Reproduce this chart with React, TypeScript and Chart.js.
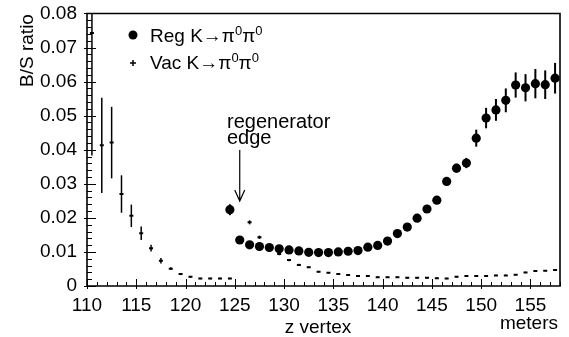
import React, { useEffect, useRef } from "react";
import { Chart, registerables } from "chart.js";
Chart.register(...registerables);

// Vacuum beam K -> pi0 pi0 (background/signal ratio vs z vertex)
const vacZ = [
  110.5, 111.5, 112.5, 113.5, 114.5, 115.5, 116.5, 117.5, 118.5, 119.5, 120.5, 121.5, 122.5, 123.5, 124.5,
  126.5, 127.5, 128.5, 129.5, 130.5, 131.5, 132.5, 133.5, 134.5, 135.5, 136.5, 137.5, 138.5, 139.5, 140.5,
  141.5, 142.5, 143.5, 144.5, 145.5, 146.5, 147.5, 148.5, 149.5, 150.5, 151.5, 152.5, 153.5, 154.5, 155.5,
  156.5, 157.5,
];
const vacRatio = [
  0.0743, 0.0413, 0.0421, 0.027, 0.0206, 0.0155, 0.0111, 0.0074, 0.0051, 0.0035, 0.0027, 0.0022, 0.0022, 0.0022, 0.0022,
  0.0187, 0.0143, 0.0115, 0.0094, 0.0076, 0.0062, 0.0055, 0.0042, 0.0039, 0.0035, 0.0032, 0.0029, 0.0029, 0.0026, 0.0026,
  0.0026, 0.0024, 0.0024, 0.0024, 0.0023, 0.0022, 0.0027, 0.0029, 0.0029, 0.0029, 0.0031, 0.0031, 0.0033, 0.004, 0.0044,
  0.0045, 0.0047,
];
const vacErr = [
  0.036, 0.014, 0.0105, 0.0055, 0.0033, 0.002, 0.001, 0.0008, 0.0004, 0.0003, 0.0002, 0.0002, 0.0002, 0.0002, 0.0002,
  0.0006, 0.0005, 0.0004, 0.0004, 0.0003, 0.0003, 0.0002, 0.0002, 0.0002, 0.0002, 0.0002, 0.0002, 0.0002, 0.0002, 0.0002,
  0.0002, 0.0002, 0.0002, 0.0002, 0.0002, 0.0002, 0.0002, 0.0002, 0.0002, 0.0002, 0.0002, 0.0002, 0.0002, 0.0002, 0.0002,
  0.0002, 0.0002,
];

// Regenerator beam K -> pi0 pi0
const regZ = [
  124.5, 125.5, 126.5, 127.5, 128.5, 129.5, 130.5, 131.5, 132.5, 133.5, 134.5, 135.5, 136.5, 137.5, 138.5,
  139.5, 140.5, 141.5, 142.5, 143.5, 144.5, 145.5, 146.5, 147.5, 148.5, 149.5, 150.5, 151.5, 152.5, 153.5,
  154.5, 155.5, 156.5, 157.5,
];
const regRatio = [
  0.0224, 0.0135, 0.0121, 0.0116, 0.0113, 0.0109, 0.0106, 0.0103, 0.0099, 0.0098, 0.0098, 0.01, 0.0102, 0.0104, 0.0114,
  0.0119, 0.0132, 0.0154, 0.0173, 0.0199, 0.0226, 0.0252, 0.0307, 0.0346, 0.0361, 0.0434, 0.0493, 0.0517, 0.0545, 0.059,
  0.0582, 0.0594, 0.0591, 0.061,
];
const regErr = [
  0.0016, 0.0005, 0.0005, 0.0005, 0.0005, 0.0005, 0.0005, 0.0005, 0.0005, 0.0005, 0.0005, 0.0005, 0.0005, 0.0005, 0.0006,
  0.0006, 0.0006, 0.0007, 0.0007, 0.0008, 0.0009, 0.001, 0.0012, 0.0013, 0.0015, 0.0025, 0.003, 0.0032, 0.0035, 0.0037,
  0.004, 0.0043, 0.0042, 0.0045,
];

const xMin = 110;
const xMax = 158;
const yMin = 0;
const yMax = 0.08;
const xMajorStep = 5;
const xMinorStep = 1;
const yMajorStep = 0.01;
const yMinorStep = 0.002;

const regLabel = ["Reg K\u2192\u03c0", "0", "\u03c0", "0"];
const vacLabel = ["Vac K\u2192\u03c0", "0", "\u03c0", "0"];
const yTitle = "B/S ratio";
const xTitle = "z vertex";
const unitTitle = "meters";
const annotationLines = ["regenerator", "edge"];
const annotationZ = 125.5;

const FONT = "'Liberation Sans', Arial, Helvetica, sans-serif";

function drawRich(ctx: CanvasRenderingContext2D, parts: string[], x: number, y: number) {
  let cx = x;
  parts.forEach((p, i) => {
    const sup = i % 2 === 1;
    ctx.font = sup ? `13px ${FONT}` : `19px ${FONT}`;
    ctx.textBaseline = "alphabetic";
    ctx.textAlign = "left";
    ctx.fillText(p, cx, sup ? y - 7 : y);
    cx += ctx.measureText(p).width;
  });
}

function drawErrBars(ctx: CanvasRenderingContext2D, chart: any, zs: number[], vals: number[], errs: number[], width: number) {
  const xs = chart.scales.x;
  const ys = chart.scales.y;
  const { top, bottom } = chart.chartArea;
  ctx.lineWidth = width;
  zs.forEach((z, i) => {
    const px = xs.getPixelForValue(z);
    const hi = Math.max(top, Math.min(bottom, ys.getPixelForValue(Math.min(yMax, vals[i] + errs[i]))));
    const lo = Math.max(top, Math.min(bottom, ys.getPixelForValue(Math.max(yMin, vals[i] - errs[i]))));
    ctx.beginPath();
    ctx.moveTo(px, hi);
    ctx.lineTo(px, lo);
    ctx.stroke();
  });
}

const decor = {
  id: "decor",
  beforeDatasetsDraw(chart: any) {
    const { ctx } = chart;
    ctx.save();
    ctx.strokeStyle = "#000";
    drawErrBars(ctx, chart, vacZ, vacRatio, vacErr, 1.5);
    drawErrBars(ctx, chart, regZ, regRatio, regErr, 2);
    ctx.restore();
  },
  afterDraw(chart: any) {
    const { ctx, chartArea } = chart;
    const xs = chart.scales.x;
    const ys = chart.scales.y;
    const { left, right, top, bottom } = chartArea;
    ctx.save();
    ctx.strokeStyle = "#000";
    ctx.fillStyle = "#000";
    // frame
    ctx.lineWidth = 1.6;
    ctx.beginPath();
    ctx.moveTo(left, top);
    ctx.lineTo(right, top);
    ctx.lineTo(right, bottom);
    ctx.lineTo(left, bottom);
    ctx.closePath();
    ctx.stroke();
    // inward ticks
    ctx.lineWidth = 1;
    for (let v = xMin; v <= xMax + 1e-9; v += xMinorStep) {
      const px = Math.round(xs.getPixelForValue(v)) + 0.5;
      const major = Math.abs(v / xMajorStep - Math.round(v / xMajorStep)) < 1e-6;
      ctx.beginPath();
      ctx.moveTo(px, bottom + (major ? 3 : 0));
      ctx.lineTo(px, bottom - (major ? 7 : 4));
      ctx.stroke();
    }
    for (let v = yMin; v <= yMax + 1e-9; v += yMinorStep) {
      const py = Math.round(ys.getPixelForValue(v)) + 0.5;
      const major = Math.abs(v / yMajorStep - Math.round(v / yMajorStep)) < 1e-6;
      ctx.beginPath();
      ctx.moveTo(left - (major ? 3 : 0), py);
      ctx.lineTo(left + (major ? 9 : 5), py);
      ctx.stroke();
    }
    // legend
    ctx.beginPath();
    ctx.arc(133, 35, 4.5, 0, Math.PI * 2);
    ctx.fill();
    drawRich(ctx, regLabel, 150, 42);
    ctx.lineWidth = 1.5;
    ctx.beginPath();
    ctx.moveTo(130, 63);
    ctx.lineTo(136, 63);
    ctx.moveTo(133, 60);
    ctx.lineTo(133, 66);
    ctx.stroke();
    drawRich(ctx, vacLabel, 150, 69);
    // annotation
    ctx.font = `20px ${FONT}`;
    ctx.textAlign = "left";
    ctx.textBaseline = "alphabetic";
    ctx.fillText(annotationLines[0], 227, 128);
    ctx.fillText(annotationLines[1], 227, 144);
    const ax = xs.getPixelForValue(annotationZ);
    ctx.lineWidth = 1.2;
    ctx.beginPath();
    ctx.moveTo(ax, 150);
    ctx.lineTo(ax, 201);
    ctx.moveTo(ax - 5, 190);
    ctx.lineTo(ax, 201);
    ctx.lineTo(ax + 5, 190);
    ctx.stroke();
    // axis titles
    ctx.font = `19px ${FONT}`;
    ctx.textAlign = "center";
    ctx.fillText(xTitle, 318, 333);
    ctx.textAlign = "right";
    ctx.fillText(unitTitle, 558, 329);
    ctx.translate(33, 50.5);
    ctx.rotate(-Math.PI / 2);
    ctx.textAlign = "center";
    ctx.fillText(yTitle, 0, 0);
    ctx.restore();
  },
};

export default function App() {
  const ref = useRef<HTMLCanvasElement>(null);
  useEffect(() => {
    if (!ref.current) return;
    const chart = new Chart(ref.current, {
      type: "scatter",
      data: {
        datasets: [
          {
            label: "Vac",
            data: vacZ.map((z, i) => ({ x: z, y: vacRatio[i] })),
            pointStyle: "line",
            radius: 2,
            borderWidth: 2,
            borderColor: "#000",
            backgroundColor: "#000",
          },
          {
            label: "Reg",
            data: regZ.map((z, i) => ({ x: z, y: regRatio[i] })),
            pointStyle: "circle",
            radius: 4.6,
            borderWidth: 0,
            borderColor: "#000",
            backgroundColor: "#000",
          },
        ],
      },
      options: {
        animation: false,
        responsive: false,
        maintainAspectRatio: false,
        events: [],
        layout: { padding: { left: 0, right: 9, top: 13.5, bottom: 0 } },
        plugins: { legend: { display: false }, tooltip: { enabled: false } },
        scales: {
          x: {
            type: "linear",
            min: xMin,
            max: xMax,
            grid: { display: false, drawTicks: false },
            border: { display: false },
            ticks: {
              stepSize: xMajorStep,
              includeBounds: false,
              padding: 8,
              color: "#000",
              font: { family: FONT, size: 19 },
              maxRotation: 0,
              callback: (v: any) => String(v),
            },
            afterFit: (s: any) => {
              s.height = 51;
              s.paddingLeft = 0;
              s.paddingRight = 0;
            },
          },
          y: {
            type: "linear",
            min: yMin,
            max: yMax,
            grid: { display: false, drawTicks: false },
            border: { display: false },
            ticks: {
              stepSize: yMajorStep,
              padding: 10,
              color: "#000",
              font: { family: FONT, size: 19 },
              callback: (v: any) => (Math.abs(v) < 1e-9 ? "0" : Number(v).toFixed(2)),
            },
            afterFit: (s: any) => {
              s.width = 87;
              s.paddingTop = 0;
              s.paddingBottom = 0;
            },
          },
        },
      },
      plugins: [decor],
    });
    return () => chart.destroy();
  }, []);
  return (
    <div style={{ position: "fixed", left: 0, top: 0, width: 569, height: 337, background: "#fff" }}>
      <canvas ref={ref} width={569} height={337} style={{ width: 569, height: 337 }} />
    </div>
  );
}
